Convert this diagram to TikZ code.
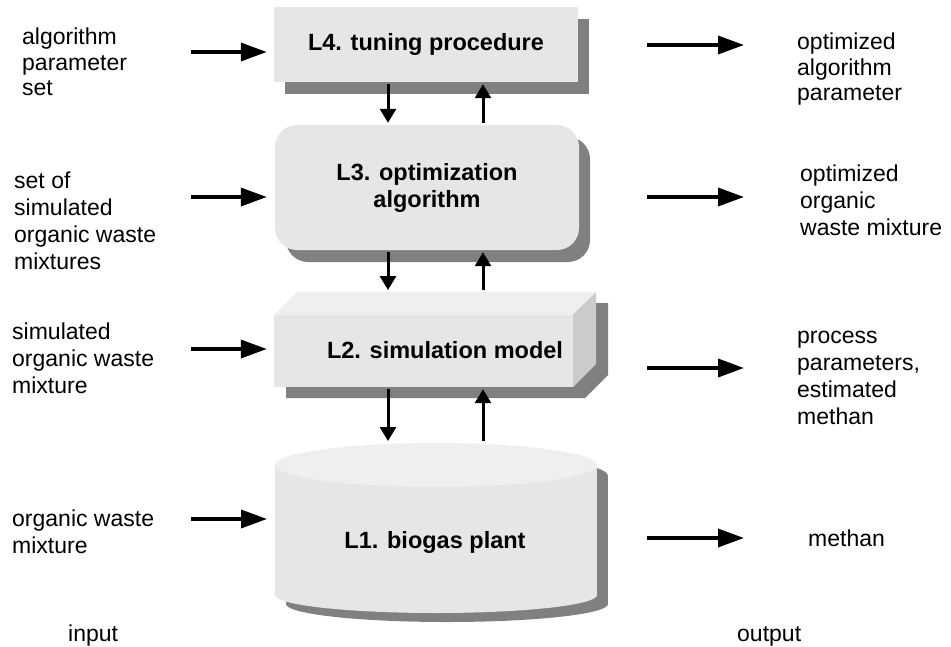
\documentclass[tikz,border=0pt]{standalone}
\usepackage{fontspec}
\setmainfont{Liberation Sans}
\usetikzlibrary{arrows.meta,shadows}

\definecolor{boxgray}{HTML}{E6E6E6}
\definecolor{topgray}{HTML}{EFEFEF}
\definecolor{sidegray}{HTML}{CBCBCB}
\definecolor{shadowgray}{HTML}{808080}

\begin{document}
\begin{tikzpicture}[
x=1pt, y=-1pt,
every node/.style={inner sep=0pt},
txt/.style={anchor=north west, align=left, font=\fontsize{23}{27}\selectfont},
tight/.style={font=\fontsize{23}{25.5}\selectfont},
lbl/.style={align=center, font=\fontsize{23.5}{27}\selectfont\bfseries},
lvl/.style={lbl, fill=boxgray},
shade/.style={drop shadow={shadow xshift=11pt, shadow yshift=-12pt, fill=shadowgray, opacity=1}},
harrow/.style={line width=3.5pt, -{Triangle[length=26pt,width=18pt]}},
varrow/.style={line width=3pt, -{Triangle[length=14pt,width=16pt]}, shorten <=2pt, shorten >=2pt},
]
\useasboundingbox (0,0) rectangle (951,646);

% L4 and L3
\node[lvl, shade, minimum width=304pt, minimum height=75pt] (L4) at (426,44.5) {L4. tuning procedure};
\node[lvl, shade, rounded corners=22pt, minimum width=304pt, minimum height=125pt] (L3) at (427,187.5) {L3. optimization\\algorithm};

% L2 box
\fill[shadowgray] (286,326) -- (309,303) -- (608,303) -- (608,375) -- (585,398) -- (286,398) -- cycle;
\fill[topgray] (274,315) -- (297,292) -- (596,292) -- (573,315) -- cycle;
\fill[sidegray] (573,315) -- (596,292) -- (596,364) -- (573,387) -- cycle;
\node[fill=boxgray, minimum width=299pt, minimum height=72pt] (L2) at (423.5,351) {};
\node[lbl] (L2lab) at (445,350) {L2. simulation model};
\coordinate (L2top) at (445,292);

% L1 cylinder
\fill[shadowgray] (286,476) rectangle (608,604);
\fill[shadowgray] (447,476) ellipse [x radius=161pt, y radius=22pt];
\fill[shadowgray] (447,604) ellipse [x radius=161pt, y radius=18pt];
\fill[boxgray] (275,465) rectangle (597,595);
\fill[boxgray] (436,595) ellipse [x radius=161pt, y radius=18pt];
\fill[topgray] (436,465) ellipse [x radius=161pt, y radius=22pt];
\node[lbl] (L1) at (435,542) {L1. biogas plant};
\coordinate (L1top) at (436,443);
\coordinate (L1w) at (275,530);

% between the levels
\coordinate (dn) at (388,0);
\coordinate (up) at (483,0);
\draw[varrow] (dn |- L4.south) -- (dn |- L3.north);
\draw[varrow] (up |- L3.north) -- (up |- L4.south);
\draw[varrow] (dn |- L3.south) -- (dn |- L2top);
\draw[varrow] (up |- L2top) -- (up |- L3.south);
\draw[varrow] (dn |- L2.south) -- (dn |- L1top);
\draw[varrow] (up |- L1top) -- (up |- L2.south);

% inputs
\node[txt, tight] (in4) at (22,28) {algorithm\\parameter\\set};
\node[txt] (in3) at (14,172) {set of\\simulated\\organic waste\\mixtures};
\node[txt] (in2) at (12,323) {simulated\\organic waste\\mixture};
\node[txt] (in1) at (12,510) {organic waste\\mixture};
\node[txt] (input) at (68,625) {input};

\coordinate (s4) at (191,52);
\coordinate (s3) at (191,197);
\coordinate (s2) at (191,349);
\coordinate (s1) at (191,519);
\draw[harrow, shorten >=7pt] (s4) -- (s4 -| L4.west);
\draw[harrow, shorten >=8pt] (s3) -- (s3 -| L3.west);
\draw[harrow, shorten >=7pt] (s2) -- (s2 -| L2.west);
\draw[harrow, shorten >=8pt] (s1) -- (s1 -| L1w);

% outputs
\coordinate (rc) at (647,0);
\coordinate (e4) at (744,45);
\coordinate (e3) at (744,197);
\coordinate (e2) at (744,368);
\coordinate (e1) at (744,538);
\draw[harrow] (rc |- e4) -- (e4);
\draw[harrow] (rc |- e3) -- (e3);
\draw[harrow] (rc |- e2) -- (e2);
\draw[harrow] (rc |- e1) -- (e1);

\node[txt, tight] (out4) at (797,33) {optimized\\algorithm\\parameter};
\node[txt] (out3) at (800,165) {optimized\\organic\\waste mixture};
\node[txt] (out2) at (797,331) {process\\parameters,\\estimated\\methan};
\node[txt] (out1) at (808,530) {methan};
\node[txt] (output) at (737,626) {output};
\end{tikzpicture}
\end{document}
